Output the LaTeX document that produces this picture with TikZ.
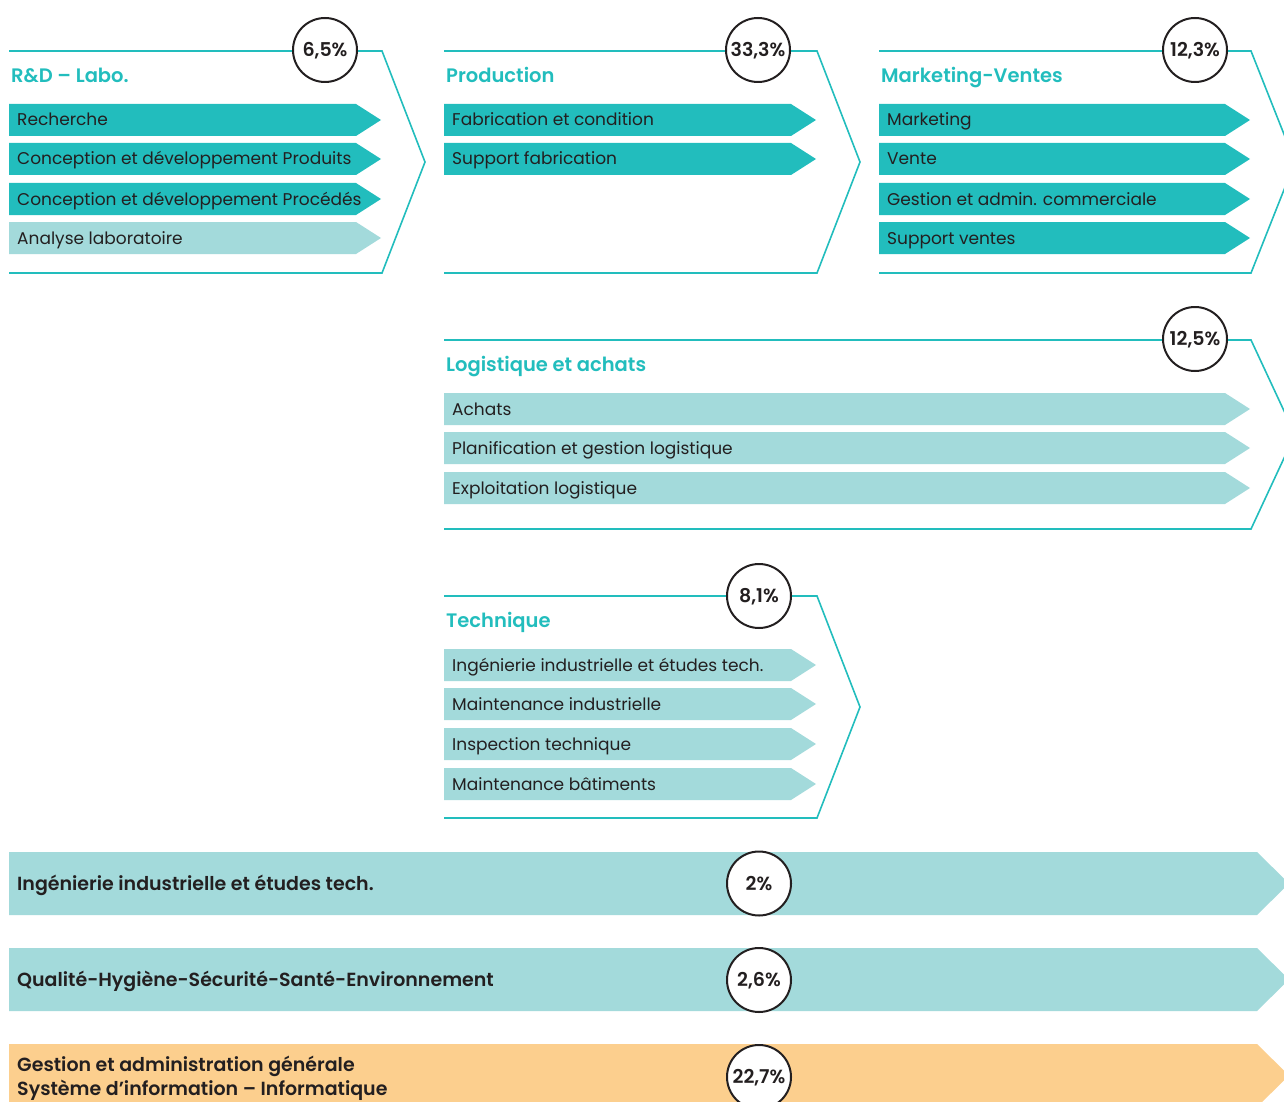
\documentclass[tikz,border=0pt]{standalone}
\usepackage{fontspec}
\setmainfont{Poppins}[BoldFont={Poppins SemiBold}]
\usetikzlibrary{positioning}
\definecolor{tealdark}{HTML}{22BDBD}
\definecolor{teallight}{HTML}{A3DADB}
\definecolor{peach}{HTML}{FCCF8E}
\definecolor{ink}{HTML}{231F20}
% one arrow bar with its label: left x, centre y, tip x, colour, name, text
\newcommand{\itembar}[6]{%
  \fill[#4] (#1,#2-16) -- (#3-25,#2-16) -- (#3,#2) -- (#3-25,#2+16) -- (#1,#2+16) -- cycle;
  \node[item] (#5) at (#1+8,#2+6) {#6};}
% chevron frame round a group: left x, corner x, top y, bottom y, tip x
\newcommand{\groupframe}[5]{%
  \draw[outline] (#1,#3) -- (#2,#3) -- (#5,{(#3+#4)/2}) -- (#2,#4) -- (#1,#4);}
% wide bar: top y, colour
\newcommand{\widebar}[2]{%
  \fill[#2] (9,#1) -- (1257,#1) -- (1289,#1+31.5) -- (1257,#1+63) -- (9,#1+63) -- cycle;}

\begin{document}
\begin{tikzpicture}[x=1pt,y=-1pt,
  outline/.style={draw=tealdark,line width=1.6pt},
  item/.style={anchor=base west,inner sep=0pt,text=ink,font=\fontsize{17}{20}\selectfont},
  grouptitle/.style={anchor=base west,inner sep=0pt,text=tealdark,font=\fontsize{19.5}{22}\selectfont\bfseries},
  pct/.style={circle,draw=ink,line width=2pt,fill=white,minimum size=64pt,inner sep=0pt,
    text height=13.3pt,text depth=0pt,text=ink,font=\fontsize{19}{22}\selectfont\bfseries},
  bigtext/.style={anchor=west,inner sep=0pt,text=ink,align=left,font=\fontsize{19}{24}\selectfont\bfseries}]
  \useasboundingbox (0,0) rectangle (1284,1102);

  % R&D
  \groupframe{9}{382}{51}{273}{425}
  \node[grouptitle] (rd) at (11,83) {R\&D – Labo.};
  \foreach \y/\c/\txt [count=\k] in {120/tealdark/Recherche,
      159/tealdark/Conception et développement Produits,
      199/tealdark/Conception et développement Procédés,
      238/teallight/Analyse laboratoire}
    \itembar{9}{\y}{381}{\c}{rd-\k}{\txt};
  \node[pct] (rd-pct) at (325,50) {6,5\%};

  % Production
  \groupframe{444}{817}{51}{273}{860}
  \node[grouptitle] (prod) at (446,83) {Production};
  \foreach \y/\txt [count=\k] in {120/Fabrication et condition, 159/Support fabrication}
    \itembar{444}{\y}{816}{tealdark}{prod-\k}{\txt};
  \node[pct] (prod-pct) at (758,50) {33,3\%};

  % Marketing
  \groupframe{879}{1251}{51}{273}{1295}
  \node[grouptitle] (mkt) at (881,83) {Marketing-Ventes};
  \foreach \y/\txt [count=\k] in {120/Marketing, 159/Vente,
      199/Gestion et admin. commerciale, 238/Support ventes}
    \itembar{879}{\y}{1250}{tealdark}{mkt-\k}{\txt};
  \node[pct] (mkt-pct) at (1195,50) {12,3\%};

  % Logistique
  \groupframe{444}{1251}{340}{529}{1295}
  \node[grouptitle] (log) at (446,371) {Logistique et achats};
  \foreach \y/\txt [count=\k] in {409/Achats, 448/Planification et gestion logistique,
      488/Exploitation logistique}
    \itembar{444}{\y}{1250}{teallight}{log-\k}{\txt};
  \node[pct] (log-pct) at (1195,339) {12,5\%};

  % Technique
  \groupframe{444}{817}{596}{818}{860}
  \node[grouptitle] (tech) at (446,627) {Technique};
  \foreach \y/\txt [count=\k] in {665/Ingénierie industrielle et études tech.,
      704/Maintenance industrielle, 744/Inspection technique, 784/Maintenance bâtiments}
    \itembar{444}{\y}{816}{teallight}{tech-\k}{\txt};
  \node[pct] (tech-pct) at (759,596) {8,1\%};

  % transverse functions
  \widebar{852}{teallight}
  \node[bigtext] (ing) at (17,885.5) {Ingénierie industrielle et études tech.};
  \node[pct] (ing-pct) at (759,883.5) {2\%};
  \widebar{948}{teallight}
  \node[bigtext] (qhse) at (17,981.5) {Qualité-Hygiène-Sécurité-Santé-Environnement};
  \node[pct] (qhse-pct) at (759,980) {2,6\%};
  \widebar{1044}{peach}
  \node[bigtext] (gen) at (17,1078) {Gestion et administration générale\\Système d’information – Informatique};
  \node[pct] (gen-pct) at (759,1077) {22,7\%};
\end{tikzpicture}
\end{document}
